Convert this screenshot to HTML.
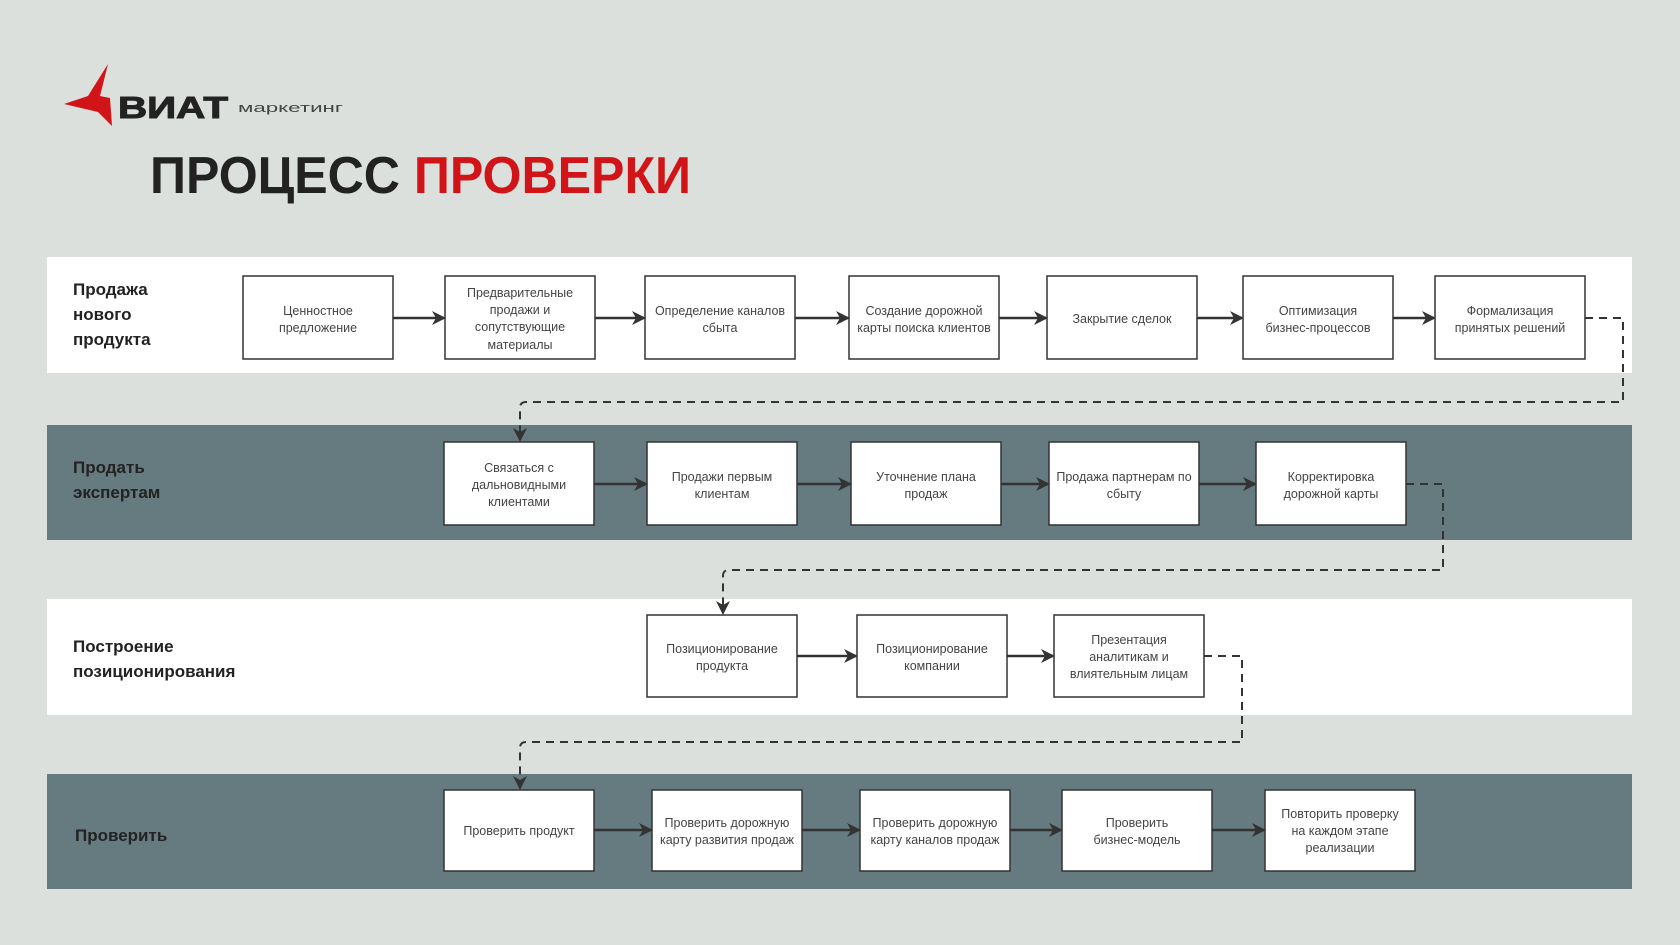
<!DOCTYPE html>
<html><head><meta charset="utf-8"><style>
html,body{margin:0;padding:0;background:#dce0dd;}
svg{display:block}
text{font-family:"Liberation Sans","DejaVu Sans",sans-serif;}
.bx{fill:#fff;stroke:#333;stroke-width:1.5}
.t{font-size:12.5px;fill:#444;text-anchor:middle}
.lb{font-size:17px;font-weight:bold;fill:#222}
.ar{stroke:#333;stroke-width:2.5;fill:none}
.ds{stroke:#333;stroke-width:2;fill:none;stroke-dasharray:8 6}
</style></head><body>
<svg width="1680" height="945" viewBox="0 0 1680 945" xmlns="http://www.w3.org/2000/svg">
<defs>
<marker id="b" markerWidth="14" markerHeight="14" refX="12" refY="7" orient="auto" markerUnits="userSpaceOnUse"><path d="M0,0 L14,7 L0,14 L4,7z" fill="#333"/></marker></defs>
<rect width="1680" height="945" fill="#dce0dd"/>
<!-- logo -->
<path d="M108,64 L88,96 L64,104 L98,112 L112,126 L110,98 L100,96z" fill="#d01418"/>
<text x="118" y="118" font-size="31" font-weight="bold" fill="#222" stroke="#222" stroke-width="1" textLength="110" lengthAdjust="spacingAndGlyphs">ВИАТ</text>
<text x="238" y="112" font-size="13" fill="#444" textLength="105" lengthAdjust="spacingAndGlyphs">маркетинг</text>
<text x="150" y="193" font-size="52" font-weight="bold" fill="#222" textLength="541" lengthAdjust="spacingAndGlyphs">ПРОЦЕСС <tspan fill="#d01418">ПРОВЕРКИ</tspan></text>
<!-- bands -->
<rect x="47" y="257" width="1585" height="116" fill="#fff"/>
<rect x="47" y="425" width="1585" height="115" fill="#667b7f"/>
<rect x="47" y="599" width="1585" height="116" fill="#fff"/>
<rect x="47" y="774" width="1585" height="115" fill="#667b7f"/>
<text class="lb" x="73" y="295">Продажа</text><text class="lb" x="73" y="320">нового</text><text class="lb" x="73" y="345">продукта</text>
<text class="lb" x="73" y="473">Продать</text><text class="lb" x="73" y="498">экспертам</text>
<text class="lb" x="73" y="652">Построение</text><text class="lb" x="73" y="677">позиционирования</text>
<text class="lb" x="75" y="841">Проверить</text>
<!-- row1 -->
<g>
<rect class="bx" x="243" y="276" width="150" height="83"/><text class="t"><tspan x="318" y="315">Ценностное</tspan><tspan x="318" y="332">предложение</tspan></text>
<rect class="bx" x="445" y="276" width="150" height="83"/><text class="t"><tspan x="520" y="297">Предварительные</tspan><tspan x="520" y="314">продажи и</tspan><tspan x="520" y="331">сопутствующие</tspan><tspan x="520" y="349">материалы</tspan></text>
<rect class="bx" x="645" y="276" width="150" height="83"/><text class="t"><tspan x="720" y="315">Определение каналов</tspan><tspan x="720" y="332">сбыта</tspan></text>
<rect class="bx" x="849" y="276" width="150" height="83"/><text class="t"><tspan x="924" y="315">Создание дорожной</tspan><tspan x="924" y="332">карты поиска клиентов</tspan></text>
<rect class="bx" x="1047" y="276" width="150" height="83"/><text class="t"><tspan x="1122" y="323">Закрытие сделок</tspan></text>
<rect class="bx" x="1243" y="276" width="150" height="83"/><text class="t"><tspan x="1318" y="315">Оптимизация</tspan><tspan x="1318" y="332">бизнес-процессов</tspan></text>
<rect class="bx" x="1435" y="276" width="150" height="83"/><text class="t"><tspan x="1510" y="315">Формализация</tspan><tspan x="1510" y="332">принятых решений</tspan></text>
<line class="ar" x1="393" y1="318" x2="444" y2="318" marker-end="url(#b)"/>
<line class="ar" x1="595" y1="318" x2="644" y2="318" marker-end="url(#b)"/>
<line class="ar" x1="795" y1="318" x2="848" y2="318" marker-end="url(#b)"/>
<line class="ar" x1="999" y1="318" x2="1046" y2="318" marker-end="url(#b)"/>
<line class="ar" x1="1197" y1="318" x2="1242" y2="318" marker-end="url(#b)"/>
<line class="ar" x1="1393" y1="318" x2="1434" y2="318" marker-end="url(#b)"/>
</g>
<path class="ds" d="M1585,318 H1623 V402 H526 Q520,402 520,408 V440" marker-end="url(#b)"/>
<!-- row2 -->
<rect class="bx" x="444" y="442" width="150" height="83"/><text class="t"><tspan x="519" y="472">Связаться с</tspan><tspan x="519" y="489">дальновидными</tspan><tspan x="519" y="506">клиентами</tspan></text>
<rect class="bx" x="647" y="442" width="150" height="83"/><text class="t"><tspan x="722" y="481">Продажи первым</tspan><tspan x="722" y="498">клиентам</tspan></text>
<rect class="bx" x="851" y="442" width="150" height="83"/><text class="t"><tspan x="926" y="481">Уточнение плана</tspan><tspan x="926" y="498">продаж</tspan></text>
<rect class="bx" x="1049" y="442" width="150" height="83"/><text class="t"><tspan x="1124" y="481">Продажа партнерам по</tspan><tspan x="1124" y="498">сбыту</tspan></text>
<rect class="bx" x="1256" y="442" width="150" height="83"/><text class="t"><tspan x="1331" y="481">Корректировка</tspan><tspan x="1331" y="498">дорожной карты</tspan></text>
<line class="ar" x1="594" y1="484" x2="646" y2="484" marker-end="url(#b)"/>
<line class="ar" x1="797" y1="484" x2="850" y2="484" marker-end="url(#b)"/>
<line class="ar" x1="1001" y1="484" x2="1048" y2="484" marker-end="url(#b)"/>
<line class="ar" x1="1199" y1="484" x2="1255" y2="484" marker-end="url(#b)"/>
<path class="ds" d="M1406,484 H1443 V570 H729 Q723,570 723,576 V613" marker-end="url(#b)"/>
<!-- row3 -->
<rect class="bx" x="647" y="615" width="150" height="82"/><text class="t"><tspan x="722" y="653">Позиционирование</tspan><tspan x="722" y="670">продукта</tspan></text>
<rect class="bx" x="857" y="615" width="150" height="82"/><text class="t"><tspan x="932" y="653">Позиционирование</tspan><tspan x="932" y="670">компании</tspan></text>
<rect class="bx" x="1054" y="615" width="150" height="82"/><text class="t"><tspan x="1129" y="644">Презентация</tspan><tspan x="1129" y="661">аналитикам и</tspan><tspan x="1129" y="678">влиятельным лицам</tspan></text>
<line class="ar" x1="797" y1="656" x2="856" y2="656" marker-end="url(#b)"/>
<line class="ar" x1="1007" y1="656" x2="1053" y2="656" marker-end="url(#b)"/>
<path class="ds" d="M1204,656 H1242 V742 H526 Q520,742 520,748 V788" marker-end="url(#b)"/>
<!-- row4 -->
<rect class="bx" x="444" y="790" width="150" height="81"/><text class="t"><tspan x="519" y="835">Проверить продукт</tspan></text>
<rect class="bx" x="652" y="790" width="150" height="81"/><text class="t"><tspan x="727" y="827">Проверить дорожную</tspan><tspan x="727" y="844">карту развития продаж</tspan></text>
<rect class="bx" x="860" y="790" width="150" height="81"/><text class="t"><tspan x="935" y="827">Проверить дорожную</tspan><tspan x="935" y="844">карту каналов продаж</tspan></text>
<rect class="bx" x="1062" y="790" width="150" height="81"/><text class="t"><tspan x="1137" y="827">Проверить</tspan><tspan x="1137" y="844">бизнес-модель</tspan></text>
<rect class="bx" x="1265" y="790" width="150" height="81"/><text class="t"><tspan x="1340" y="818">Повторить проверку</tspan><tspan x="1340" y="835">на каждом этапе</tspan><tspan x="1340" y="852">реализации</tspan></text>
<line class="ar" x1="594" y1="830" x2="651" y2="830" marker-end="url(#b)"/>
<line class="ar" x1="802" y1="830" x2="859" y2="830" marker-end="url(#b)"/>
<line class="ar" x1="1010" y1="830" x2="1061" y2="830" marker-end="url(#b)"/>
<line class="ar" x1="1212" y1="830" x2="1264" y2="830" marker-end="url(#b)"/>
</svg>
</body></html>
